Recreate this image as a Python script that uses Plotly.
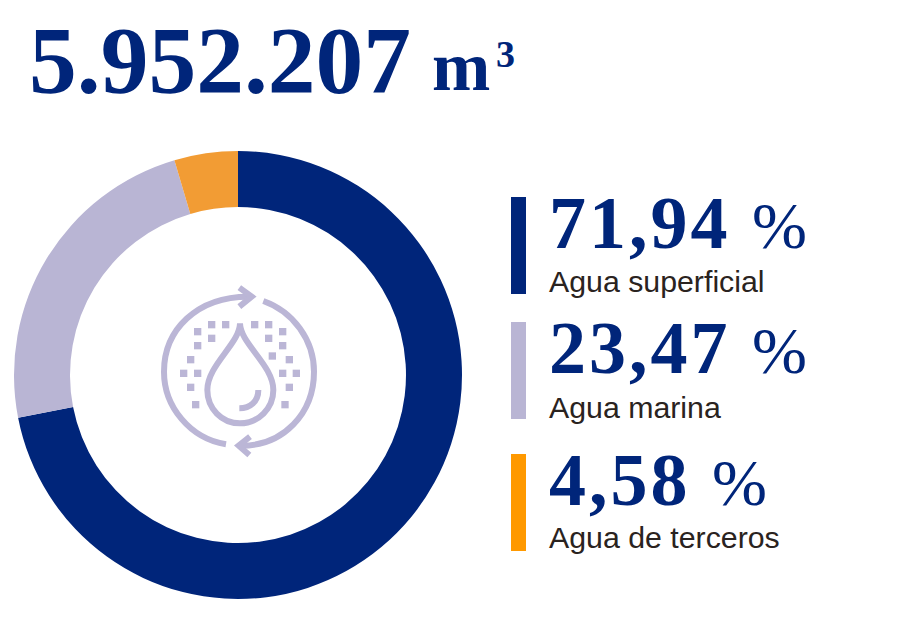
import plotly.graph_objects as go

TOTAL_LABEL = "5.952.207"
UNIT_LABEL = "m"
UNIT_POWER = "3"
categories = ["Agua superficial", "Agua marina", "Agua de terceros"]
shares = [71.94, 23.47, 4.58]
ring_colors = ["#00257a", "#b9b5d4", "#f29c34"]
key_colors = ["#00257a", "#b9b5d4", "#ff9900"]
NAVY = "#00257a"
ICON = "#bbb6d6"
W, H = 900, 630


def px(x):
    return x / W


def py(y):
    return 1 - y / H


def zx(x):
    return px(150 + x / 3)


def zy(y):
    return py(275 + y / 3)


def path(*items):
    out = []
    for it in items:
        if isinstance(it, str):
            out.append(it)
        else:
            out.append(f"{zx(it[0]):.5f},{zy(it[1]):.5f}")
    return " ".join(out)


fig = go.Figure(go.Pie(
    labels=categories, values=shares, hole=0.75, sort=False, direction="clockwise", rotation=0,
    marker=dict(colors=ring_colors, line=dict(width=0)), textinfo="none", showlegend=False,
    domain=dict(x=[px(14), px(462)], y=[py(599), py(151)]),
))

shapes = []
for top, bottom, color in zip([197, 322, 454], [294, 419, 551], key_colors):
    shapes.append(dict(type="rect", xref="paper", yref="paper", x0=px(511), x1=px(526),
                       y0=py(bottom), y1=py(top), fillcolor=color, line_width=0))


def stroke(d):
    shapes.append(dict(type="path", xref="paper", yref="paper", path=d,
                       line=dict(color=ICON, width=6), fillcolor="rgba(0,0,0,0)"))


# circular arrows
stroke(path("M", (228, 508), "C", (120, 490), (42, 395), (42, 290), "C", (42, 165), (140, 65), (295, 65)))
stroke(path("M", (268, 38), "L", (305, 65), "L", (268, 95)))
stroke(path("M", (340, 78), "C", (430, 110), (492, 195), (492, 290), "C", (492, 415), (400, 512), (275, 512)))
stroke(path("M", (300, 485), "L", (266, 512), "L", (298, 540)))
# drop
stroke(path("M", (270, 145), "C", (270, 205), (172, 270), (172, 345), "C", (172, 400), (215, 445), (270, 445),
            "C", (325, 445), (370, 400), (370, 345), "C", (370, 270), (270, 205), (270, 145), "Z"))
stroke(path("M", (268, 400), "C", (300, 400), (325, 380), (325, 345)))
# dots
dots = [(143, 170), (185, 149), (227, 149), (185, 190), (143, 212), (122, 254), (101, 295), (143, 295), (122, 337),
        (137, 389), (314, 149), (356, 149), (398, 170), (356, 190), (398, 212), (367, 243), (418, 254), (398, 295),
        (439, 295), (418, 337), (405, 389)]
for cx, cy in dots:
    shapes.append(dict(type="rect", xref="paper", yref="paper", x0=zx(cx - 11), x1=zx(cx + 11),
                       y0=zy(cy + 11), y1=zy(cy - 11), fillcolor=ICON, line_width=0))

SERIF = "Liberation Serif"
SANS = "Liberation Sans"


def note(text, x, y, size, family, color):
    return dict(text=text, x=px(x), y=py(y), xref="paper", yref="paper", xanchor="left", yanchor="middle",
                showarrow=False, align="left", font=dict(family=family, size=size, color=color),
                borderpad=0, borderwidth=0)


ann = [
    note(f"<b>{TOTAL_LABEL}</b>", 29, 61, 95.5, SERIF, NAVY),
    note(f"<b>{UNIT_LABEL}</b>", 432, 67, 70, SERIF, NAVY),
    note(f"<b>{UNIT_POWER}</b>", 496, 54, 38, SERIF, NAVY),
]
for cat, v, yv, yl in zip(categories, shares, [223, 348, 480], [281, 407, 537]):
    num = f"{v:.2f}".replace(".", ",")
    ann.append(note(f"<span style='letter-spacing:3px'><b>{num} </b></span><span style='font-size:66px'>%</span>",
                    549, yv, 74, SERIF, NAVY))
    ann.append(note(cat, 549, yl, 30.3, SANS, "#2a2320"))

fig.update_layout(width=W, height=H, margin=dict(l=0, r=0, t=0, b=0), paper_bgcolor="white",
                  plot_bgcolor="white", shapes=shapes, annotations=ann)
fig.write_html("out.html", config=dict(displayModeBar=False),
               post_script="document.body.style.margin='0';")
